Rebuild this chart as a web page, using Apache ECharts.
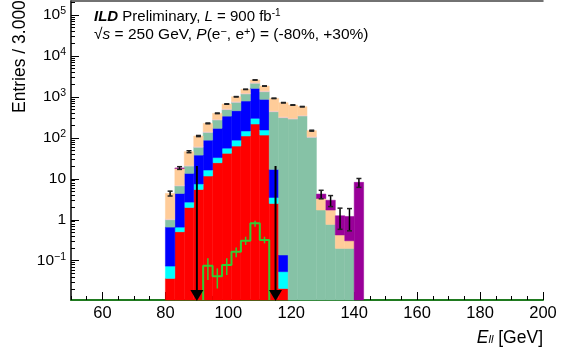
<!DOCTYPE html>
<html>
<head>
<meta charset="utf-8">
<script src="https://cdn.jsdelivr.net/npm/echarts@6/dist/echarts.min.js"></script>
<style>
html, body { margin: 0; padding: 0; background: #fff; }
#chart { width: 566px; height: 358px; }
</style>
</head>
<body>
<div id="chart"></div>
<script>
// bin low edges in GeV, each bin is 3 GeV wide
var binLow = [80, 83, 86, 89, 92, 95, 98, 101, 104, 107, 110, 113, 116, 119, 122, 125, 128, 131, 134, 137, 140];
var binWidth = 3;

// stacked contributions, bottom to top (entries per bin)
var red    = [0.037, 0.51, 2.0, 5.5, 11.7, 24.7, 42, 63, 111, 218, 117, 2.5, 0.021, 0, 0, 0, 0, 0, 0, 0, 0];
var cyan   = [0.037, 0.15, 0.7, 2.0, 4.7, 8.3, 14, 25, 36, 82, 39, 1.0, 0.033, 0, 0, 0, 0, 0, 0, 0, 0];
var blue   = [0.59, 3.74, 10.9, 30.5, 71.6, 138, 284, 372, 647, 1320, 717, 13.5, 0.084, 0, 0, 0, 0, 0, 0, 0, 0];
var teal   = [0.34, 2.3, 6.9, 21, 48, 102, 150, 278, 386, 530, 467, 418, 311, 288, 342, 103, 1.73, 0.77, 0.2, 0.2, 0];
var pink   = [0.05, 0.3, 1.0, 3, 7, 14, 25, 40, 60, 110, 70, 22, 16, 14, 15, 5, 0, 0, 0, 0, 0];
var peach  = [3.35, 11.0, 24.5, 49, 83, 111, 156, 232, 290, 330, 435, 466, 395, 332, 221, 42, 1.57, 0.96, 0.225, 0.107, 0];
var purple = [0, 0.4, 0, 0, 0, 0, 0, 0, 0, 0, 0, 0, 0, 0, 0, 0, 0.95, 1.27, 0.83, 0.9, 8.2];

// error on the stack total
var totalErr = [0.6, 1.4, 2.5, 3.5, 5, 7, 9, 11, 14, 18, 15, 11, 9, 8, 8, 4, 1.0, 0.9, 0.67, 0.67, 2.0];

// signal overlay (green histogram)
var sigLow = [92, 95, 98, 101, 104, 107, 110];
var sigVal = [0.0755, 0.042, 0.0785, 0.166, 0.308, 0.82, 0.32];
var sigErrLo = [0.034, 0.021, 0.045, 0.121, 0.242, 0.68, 0.266];
var sigErrHi = [0.115, 0.065, 0.115, 0.212, 0.386, 0.95, 0.386];

// cut positions (arrows)
var cutValues = [90, 115];
var cutTop = 20.6;

var xTicks = [60, 80, 100, 120, 140, 160, 180, 200];
var yTicks = [0.1, 1, 10, 100, 1000, 10000, 100000];

var yMin = 0.011, yMax = 2.2e5;
var font = 'Liberation Sans, Arial, Helvetica, sans-serif';

var layers = [red, cyan, blue, teal, pink, peach, purple];
var layerColors = ['#ff0000', '#00ffff', '#0000ff', '#86c2a6', '#f3c6d0', '#ffcc99', '#990099'];

// minor log ticks 2..9 per decade
var yMinor = [];
for (var d = -2; d <= 5; d++) {
    for (var m = 2; m <= 9; m++) {
        var t = m * Math.pow(10, d);
        if (t > yMin && t < yMax) yMinor.push(t);
    }
}

function renderBin(params, api) {
    var lo = Math.max(api.value(2), yMin);
    var hi = api.value(3);
    if (hi <= yMin) return;
    var p0 = api.coord([api.value(0), hi]);
    var p1 = api.coord([api.value(1), lo]);
    var c = api.visual('color');
    return {
        type: 'rect',
        shape: { x: p0[0], y: p0[1], width: p1[0] - p0[0], height: p1[1] - p0[1] },
        style: { fill: c, stroke: c, lineWidth: 0.5 }
    };
}

// build stacked rows from the layer arrays
var base = binLow.map(function () { return 0; });
var series = layers.map(function (vals, k) {
    var rows = [];
    vals.forEach(function (v, i) {
        if (v > 0) rows.push([binLow[i], binLow[i] + binWidth, base[i], base[i] + v]);
        base[i] += v;
    });
    return {
        type: 'custom',
        renderItem: renderBin,
        data: rows,
        itemStyle: { color: layerColors[k] },
        encode: { x: 0, y: 3 },
        z: 2
    };
});

// green step line
var sigPts = [[sigLow[0], yMin]];
sigVal.forEach(function (v, i) {
    sigPts.push([sigLow[i], v]);
    sigPts.push([sigLow[i] + binWidth, v]);
});
sigPts.push([sigLow[sigLow.length - 1] + binWidth, yMin]);

series.push({
    type: 'line',
    data: sigPts,
    symbol: 'none',
    lineStyle: { color: '#33cc33', width: 2 },
    z: 4
});

series.push({
    type: 'custom',
    data: sigVal.map(function (v, i) { return [sigLow[i] + binWidth / 2, sigErrLo[i], sigErrHi[i]]; }),
    renderItem: function (params, api) {
        var a = api.coord([api.value(0), api.value(1)]);
        var b = api.coord([api.value(0), api.value(2)]);
        return { type: 'line', shape: { x1: a[0], y1: a[1], x2: b[0], y2: b[1] },
                 style: { stroke: '#33cc33', lineWidth: 1.5 } };
    },
    encode: { x: 0, y: 2 },
    z: 4
});

// error bars on stack total
series.push({
    type: 'custom',
    data: base.map(function (t, i) {
        return [binLow[i] + binWidth / 2, Math.max(t - totalErr[i], yMin), t + totalErr[i]];
    }),
    renderItem: function (params, api) {
        var a = api.coord([api.value(0), api.value(1)]);
        var b = api.coord([api.value(0), api.value(2)]);
        var cap = 2.5;
        return { type: 'group', children: [
            { type: 'line', shape: { x1: a[0], y1: a[1], x2: b[0], y2: b[1] }, style: { stroke: '#000', lineWidth: 1.5 } },
            { type: 'line', shape: { x1: a[0] - cap, y1: a[1], x2: a[0] + cap, y2: a[1] }, style: { stroke: '#222', lineWidth: 1.5 } },
            { type: 'line', shape: { x1: b[0] - cap, y1: b[1], x2: b[0] + cap, y2: b[1] }, style: { stroke: '#222', lineWidth: 1.5 } }
        ] };
    },
    encode: { x: 0, y: 2 },
    z: 5
});

// cut arrows
series.push({
    type: 'custom',
    data: cutValues.map(function (v) { return [v, cutTop]; }),
    renderItem: function (params, api) {
        var top = api.coord([api.value(0), api.value(1)]);
        var bot = api.coord([api.value(0), yMin]);
        return { type: 'group', children: [
            { type: 'line', shape: { x1: top[0], y1: top[1], x2: bot[0], y2: bot[1] - 8 }, style: { stroke: '#000', lineWidth: 2 } },
            { type: 'polygon', shape: { points: [[bot[0] - 6.5, bot[1] - 10], [bot[0] + 6.5, bot[1] - 10], [bot[0], bot[1] + 1]] }, style: { fill: '#000' } }
        ] };
    },
    encode: { x: 0, y: 1 },
    z: 6
});

function powLabel(v) {
    var l = Math.log10(v);
    var e = Math.round(l);
    if (Math.abs(l - e) > 1e-6) return '';
    if (e === 0) return '1';
    if (e === 1) return '10';
    return '10{s|' + (e < 0 ? '\u2212' + (-e) : e) + '}';
}

var chart = echarts.init(document.getElementById('chart'));
chart.setOption({
    animation: false,
    textStyle: { fontFamily: font },
    grid: { left: 71, right: 23, top: 1, bottom: 58, containLabel: false, outerBoundsMode: 'none' },
    xAxis: [{
        type: 'value', min: 50, max: 200, position: 'bottom',
        axisLine: { show: true, onZero: false, lineStyle: { color: '#1f7a1f', width: 2 } },
        axisTick: { show: true, inside: true, length: 8, customValues: xTicks, lineStyle: { color: '#000' } },
        axisLabel: { customValues: xTicks, color: '#000', fontSize: 16.5, margin: 5, fontFamily: font },
        splitLine: { show: false }
    }, {
        type: 'value', min: 50, max: 200, interval: 5, position: 'bottom',
        axisLine: { show: false },
        axisTick: { show: true, inside: true, length: 4, lineStyle: { color: '#000' } },
        axisLabel: { show: false },
        splitLine: { show: false }
    }, {
        type: 'value', min: 50, max: 200, position: 'top',
        axisLine: { show: true, lineStyle: { color: '#444', width: 1.5 } },
        axisTick: { show: false },
        axisLabel: { show: false },
        splitLine: { show: false }
    }],
    yAxis: [{
        type: 'log', logBase: 10, min: yMin, max: yMax, position: 'left',
        axisLine: { show: true, lineStyle: { color: '#000', width: 1.5 } },
        axisTick: { show: true, inside: true, length: 8, customValues: yTicks, lineStyle: { color: '#000' } },
        axisLabel: {
            customValues: yTicks, formatter: powLabel, color: '#000', margin: 5,
            fontSize: 15.5, fontFamily: font,
            rich: { s: { fontSize: 10.5, padding: [0, 0, 8, 0], fontFamily: font, color: '#000' } }
        },
        splitLine: { show: false }
    }, {
        type: 'log', logBase: 10, min: yMin, max: yMax, position: 'left',
        axisLine: { show: false },
        axisTick: { show: true, inside: true, length: 4, customValues: yMinor, lineStyle: { color: '#000' } },
        axisLabel: { show: false },
        splitLine: { show: false }
    }],
    graphic: [{
        type: 'text', x: 20, y: 113, rotation: Math.PI / 2,
        style: { text: 'Entries / 3.000 GeV', fill: '#000', font: '17.5px ' + font, align: 'left', verticalAlign: 'middle' }
    }, {
        type: 'text', x: 543, y: 340,
        style: {
            text: '{e|E}{b|ll}{n| [GeV]}', align: 'right', verticalAlign: 'middle', fill: '#000',
            rich: {
                e: { font: 'italic 17.5px ' + font, padding: [0, 0, 4, 0] },
                b: { font: 'italic 11px ' + font },
                n: { font: '17.5px ' + font, padding: [0, 0, 4, 0] }
            }
        }
    }, {
        type: 'text', x: 94, y: 17,
        style: {
            text: '{bi|ILD}{n| Preliminary, }{i|L}{n| = 900 fb}{s|-1}', align: 'left', verticalAlign: 'middle', fill: '#000',
            rich: {
                bi: { font: 'italic bold 15px ' + font },
                n: { font: '15px ' + font },
                i: { font: 'italic 15px ' + font },
                s: { font: '10px ' + font, padding: [0, 0, 7, 0] }
            }
        }
    }, {
        type: 'text', x: 94, y: 35,
        style: {
            text: '{n|\u221A}{i|s}{n| = 250 GeV, }{i|P}{n|(e}{s|\u2212}{n|, e}{s|+}{n|) = (-80%, +30%)}', align: 'left', verticalAlign: 'middle', fill: '#000',
            rich: {
                n: { font: '15.5px ' + font },
                i: { font: 'italic 15.5px ' + font },
                s: { font: '11px ' + font, padding: [0, 0, 7, 0] }
            }
        }
    }],
    series: series
});
</script>
</body>
</html>
